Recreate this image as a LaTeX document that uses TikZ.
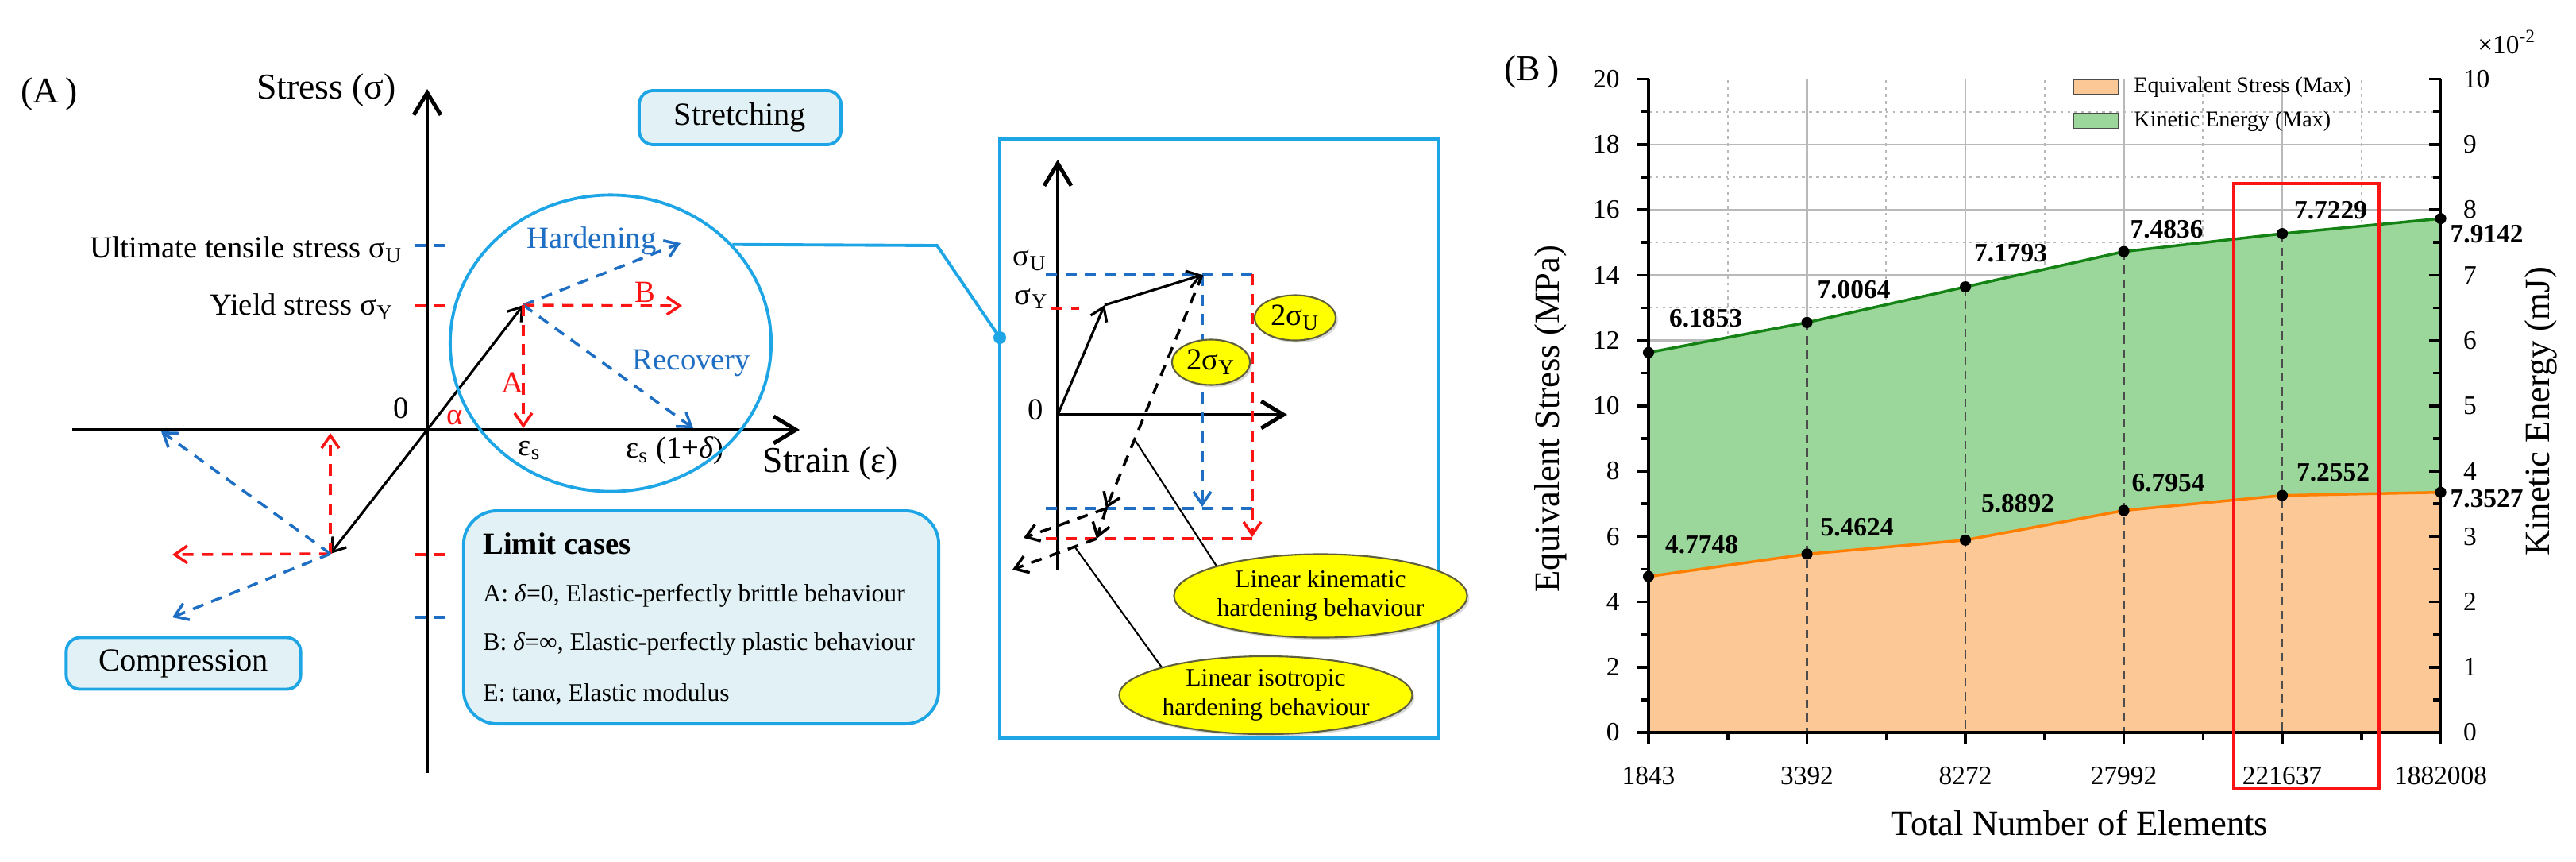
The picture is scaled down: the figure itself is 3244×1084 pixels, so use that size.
\documentclass[tikz,border=0pt]{standalone}
\usepackage{fontspec}
\setmainfont{Liberation Serif}
\usetikzlibrary{arrows.meta,shapes.geometric,shadows}

\definecolor{cyanline}{RGB}{30,165,230}
\definecolor{boxfill}{RGB}{226,241,245}
\definecolor{bluedash}{RGB}{30,110,195}
\definecolor{reddash}{RGB}{250,20,20}
\definecolor{hlyellow}{RGB}{255,255,0}
\definecolor{ellborder}{RGB}{95,95,60}
\definecolor{kefill}{RGB}{155,214,155}
\definecolor{kelinec}{RGB}{20,130,20}
\definecolor{esfill}{RGB}{252,200,150}
\definecolor{eslinec}{RGB}{255,128,0}
\definecolor{gridgray}{RGB}{185,185,185}

\tikzstyle{tagbox} = [draw=cyanline, fill=boxfill, line width=1.1pt, rounded corners=5pt, font={\fontsize{11.5pt}{13pt}\selectfont}]
\tikzstyle{yellowtag} = [ellipse, draw=ellborder, fill=hlyellow, line width=0.6pt, inner sep=0pt, align=center, drop shadow={opacity=0.3, shadow xshift=0.8pt, shadow yshift=-0.8pt}]
\tikzstyle{mainaxis} = [line width=1.4pt, -{Straight Barb[length=2.8mm,width=3.4mm,line width=1.4pt]}]
\tikzstyle{bdash} = [bluedash, line width=1pt, dash pattern=on 4pt off 3pt]
\tikzstyle{rdash} = [reddash, line width=1pt, dash pattern=on 4pt off 3pt]
\tikzstyle{kdash} = [black, line width=1pt, dash pattern=on 4pt off 3pt]

\begin{document}
\begin{tikzpicture}[x=0.01cm, y=-0.01cm, >={Straight Barb[length=1.6mm,width=2.2mm]},
    font={\fontsize{11pt}{13pt}\selectfont}]
    \tikzset{bigfont/.style={font={\fontsize{13pt}{15pt}\selectfont}},
      smallfont/.style={font={\fontsize{9pt}{10.4pt}\selectfont}},
      ticklab/.style={font={\fontsize{9.5pt}{11pt}\selectfont}},
      datalab/.style={font={\fontsize{9.5pt}{11pt}\selectfont\bfseries}},
      gridmajor/.style={gridgray, line width=0.6pt},
      gridminor/.style={gridgray, line width=0.6pt, dash pattern=on 1pt off 1.5pt},
      plotaxis/.style={black, line width=1pt}}
    \useasboundingbox (0,0) rectangle (3244,1084);

    % Panel A
    \node[bigfont] (tagA) at (62,118) {(A\,)};
    \coordinate (O) at (538,541);
    \coordinate (xleft) at (91,541);
    \coordinate (xright) at (1007,541);
    \coordinate (ybot) at (538,973);
    \coordinate (ytop) at (538,112);
    \coordinate (yieldpt) at (659,384);
    \coordinate (comppt) at (416,697);
    \draw[mainaxis] (xleft) -- (xright);
    \draw[mainaxis] (ybot) -- (ytop);
    \node[bigfont] (stresslab) at (411,113) {Stress (σ)};
    \node[bigfont] (strainlab) at (1046,583) {Strain (ε)};
    \node (zeroA) at (505,514) {0};
    \node[text=reddash] (alpha) at (573,526) {α};
    \node (epss) at (667,567) {ε\textsubscript{s}};
    \node (epsd) at (850,567) {ε\textsubscript{s} (1+\textit{δ})};
    \node[anchor=east] (ultlab) at (519,314) {Ultimate tensile stress σ\textsubscript{U}};
    \node[anchor=east] (yldlab) at (508,386) {Yield stress σ\textsubscript{Y}};
    \draw[bdash, dash pattern=on 4pt off 2.5pt] (523,309) -- (561,309);
    \draw[rdash, dash pattern=on 4pt off 2.5pt] (523,385) -- (561,385);
    \draw[rdash, dash pattern=on 4pt off 2.5pt] (523,698) -- (561,698);
    \draw[bdash, dash pattern=on 4pt off 2.5pt] (523,777) -- (561,777);

    \draw[->, line width=0.9pt] (O) -- (yieldpt);
    \draw[->, line width=0.9pt] (O) -- (comppt);
    \draw[bdash, ->] (yieldpt) -- (857,306);
    \draw[rdash, ->] (yieldpt) -- (859,385);
    \draw[bdash, ->] (yieldpt) -- (873,539);
    \draw[rdash, ->] (yieldpt) -- (659,539);
    \draw[rdash, ->] (comppt) -- (416,545);
    \draw[rdash, ->] (comppt) -- (217,698);
    \draw[bdash, ->] (comppt) -- (203,543);
    \draw[bdash, ->] (comppt) -- (217,777);
    \node[text=bluedash] (hardlab) at (745,303) {Hardening};
    \node[text=reddash] (blab) at (812,368) {B};
    \node[text=bluedash] (recovlab) at (871,457) {Recovery};
    \node[text=reddash] (alab) at (645,482) {A};

    \node[ellipse, draw=cyanline, line width=1.1pt, minimum width=4.04cm, minimum height=3.73cm] (zoomcirc) at (769,432) {};
    \node[tagbox, minimum width=2.54cm, minimum height=0.68cm] (stretch) at (932,148) {Stretching};
    \node[tagbox, minimum width=2.95cm, minimum height=0.65cm] (compress) at (231,835) {Compression};

    % Limit cases box
    \node[tagbox, rounded corners=12pt, minimum width=5.98cm, minimum height=2.68cm] (limits) at (883,777) {};
    \node[anchor=west, font={\fontsize{11pt}{13pt}\selectfont\bfseries}] (limhead) at (596,684) {Limit cases};
    \node[anchor=west, smallfont] (limA) at (596,750) {A: \textit{δ}=0, Elastic-perfectly brittle behaviour};
    \node[anchor=west, smallfont] (limB) at (596,811) {B: \textit{δ}=∞, Elastic-perfectly plastic behaviour};
    \node[anchor=west, smallfont] (limE) at (596,874) {E: tanα, Elastic modulus};

    % Zoom box
    \node[draw=cyanline, line width=1pt, minimum width=5.53cm, minimum height=7.54cm] (zoombox) at (1535.5,552) {};
    \coordinate (hook) at (1259,425);
    \draw[cyanline, line width=1.1pt] (zoomcirc.39) -- (1180,309) -- (hook);
    \fill[cyanline] (hook) circle (8);

    \coordinate (O2) at (1332,522);
    \coordinate (yield2) at (1391,384);
    \coordinate (ult2) at (1514,346);
    \coordinate (kin2) at (1393,640);
    \coordinate (iso2) at (1381,678);
    \draw[mainaxis] (1332,717) -- (1332,201);
    \draw[mainaxis] (O2) -- (1621,522);
    \node (zero2) at (1304,516) {0};
    \node (su2) at (1297,328) {σ\textsubscript{U}};
    \node (sy2) at (1299,376) {σ\textsubscript{Y}};
    \draw[bdash] (1317,345) -- (1577,345);
    \draw[rdash] (1324,388) -- (1359,388);
    \draw[bdash] (1317,640) -- (1577,640);
    \draw[rdash] (1317,678) -- (1577,678);
    \draw[bdash, ->] (ult2) -- (1514,638);
    \draw[rdash, ->] (1577,345) -- (1577,676);
    \draw[->, line width=0.9pt] (O2) -- (yield2);
    \draw[->, line width=0.9pt] (yield2) -- (ult2);
    \draw[kdash, ->] (ult2) -- (kin2);
    \draw[kdash, ->] (kin2) -- (1289,677);
    \draw[kdash, ->] (kin2) -- (iso2);
    \draw[kdash, ->] (iso2) -- (1275,717);
    \node[yellowtag, minimum width=1.02cm, minimum height=0.57cm] (twoU) at (1631,400) {2σ\textsubscript{U}};
    \node[yellowtag, minimum width=0.98cm, minimum height=0.57cm] (twoY) at (1525,456) {2σ\textsubscript{Y}};
    \node[yellowtag, smallfont, minimum width=2.98cm, minimum height=1.05cm] (kinlab) at (1663,750) {Linear kinematic\\hardening behaviour};
    \node[yellowtag, smallfont, minimum width=3.16cm, minimum height=0.98cm] (isolab) at (1594,875) {Linear isotropic\\hardening behaviour};
    \draw[line width=0.6pt] (1430,555) -- (kinlab.north west);
    \draw[line width=0.6pt] (1354,689) -- (isolab.north west);

    % Panel B
    \node[bigfont] (tagB) at (1929,90) {(B\,)};
    \begin{scope}[shift={(2076,922)}, x=1.994cm, y=0.411cm]
      \foreach \v in {1,3,...,19} \draw[gridminor] (0,\v) -- (5,\v);
      \foreach \i in {0.5,1.5,...,4.5} \draw[gridminor] (\i,0) -- (\i,20);
      \foreach \v in {2,4,...,18} \draw[gridmajor] (0,\v) -- (5,\v);
      \foreach \i in {1,...,4} \draw[gridmajor] (\i,0) -- (\i,20);
      \foreach \i/\ke/\es in {0/11.63/4.7748, 1/12.55/5.4624, 2/13.64/5.8892, 3/14.72/6.7954, 4/15.27/7.2552, 5/15.73/7.3527}{
        \coordinate (ke\i) at (\i,\ke);
        \coordinate (es\i) at (\i,\es);
      }
      \fill[kefill] (0,0) -- (ke0) -- (ke1) -- (ke2) -- (ke3) -- (ke4) -- (ke5) -- (5,0) -- cycle;
      \fill[esfill] (0,0) -- (es0) -- (es1) -- (es2) -- (es3) -- (es4) -- (es5) -- (5,0) -- cycle;
      \foreach \i in {1,...,4} \draw[black!70, line width=0.6pt, dash pattern=on 3pt off 2pt] (ke\i) -- (ke\i |- 0,0);
      \draw[kelinec, line width=1pt] (ke0) -- (ke1) -- (ke2) -- (ke3) -- (ke4) -- (ke5);
      \draw[eslinec, line width=1pt] (es0) -- (es1) -- (es2) -- (es3) -- (es4) -- (es5);
      \foreach \i in {0,...,5} {
        \fill (ke\i) circle[radius=2pt];
        \fill (es\i) circle[radius=2pt];
      }
      \foreach \i/\lab/\dx/\dy in {0/6.1853/0.72/0.43, 1/7.0064/0.59/0.41, 2/7.1793/0.57/0.42, 3/7.4836/0.54/0.28, 4/7.7229/0.61/0.29, 5/7.9142/0.58/-0.20}
        \node[datalab] at ([xshift=\dx cm, yshift=\dy cm]ke\i) {\lab};
      \foreach \i/\lab/\dx/\dy in {0/4.7748/0.67/0.40, 1/5.4624/0.63/0.34, 2/5.8892/0.66/0.46, 3/6.7954/0.56/0.35, 4/7.2552/0.64/0.29, 5/7.3527/0.58/-0.08}
        \node[datalab] at ([xshift=\dx cm, yshift=\dy cm]es\i) {\lab};

      % axes and ticks
      \draw[plotaxis] (0,20) -- (0,0) -- (5,0) -- (5,20);
      \foreach \v in {0,2,...,20} {
        \draw[plotaxis] (0,\v) -- ++(-0.15cm,0);
        \node[ticklab, anchor=east] at ([xshift=-0.24cm]0,\v) {\v};
      }
      \foreach \v in {1,3,...,19} \draw[plotaxis] (0,\v) -- ++(-0.1cm,0);
      \foreach \r in {0,...,10} {
        \draw[plotaxis] (5,2*\r) -- ++(-0.15cm,0);
        \node[ticklab, anchor=west] at ([xshift=0.16cm]5,2*\r) {\r};
      }
      \foreach \r in {1,3,...,19} \draw[plotaxis] (5,\r) -- ++(-0.1cm,0);
      \foreach \i/\lab in {0/1843, 1/3392, 2/8272, 3/27992, 4/221637, 5/1882008} {
        \draw[plotaxis] (\i,0) -- ++(0,-0.14cm);
        \node[ticklab] at ([yshift=-0.55cm]\i,0) {\lab};
      }
      \foreach \i in {0.5,1.5,...,4.5} \draw[plotaxis] (\i,0) -- ++(0,-0.09cm);
    \end{scope}

    % Legend
    \draw[line width=0.5pt, draw=black!70, fill=esfill] (2611,100) rectangle (2668,119);
    \node[anchor=west, font={\fontsize{8pt}{9pt}\selectfont}] (legES) at (2675,110) {Equivalent Stress (Max)};
    \draw[line width=0.5pt, draw=black!70, fill=kefill] (2611,143) rectangle (2668,162);
    \node[anchor=west, font={\fontsize{8pt}{9pt}\selectfont}] (legKE) at (2675,153) {Kinetic Energy (Max)};

    \node[ticklab] (expo) at (3157,53) {×10\textsuperscript{-2}};
    \draw[reddash, line width=1.1pt] (2813,231) rectangle (2996,993);
    \node[font={\fontsize{12.7pt}{14pt}\selectfont}, rotate=90] (ytitleL) at (1953,527) {Equivalent Stress (MPa)};
    \node[font={\fontsize{12.7pt}{14pt}\selectfont}, rotate=90] (ytitleR) at (3200,518) {Kinetic Energy (mJ)};
    \node[font={\fontsize{12.7pt}{14pt}\selectfont}] (xtitle) at (2619,1036) {Total Number of Elements};
\end{tikzpicture}
\end{document}
